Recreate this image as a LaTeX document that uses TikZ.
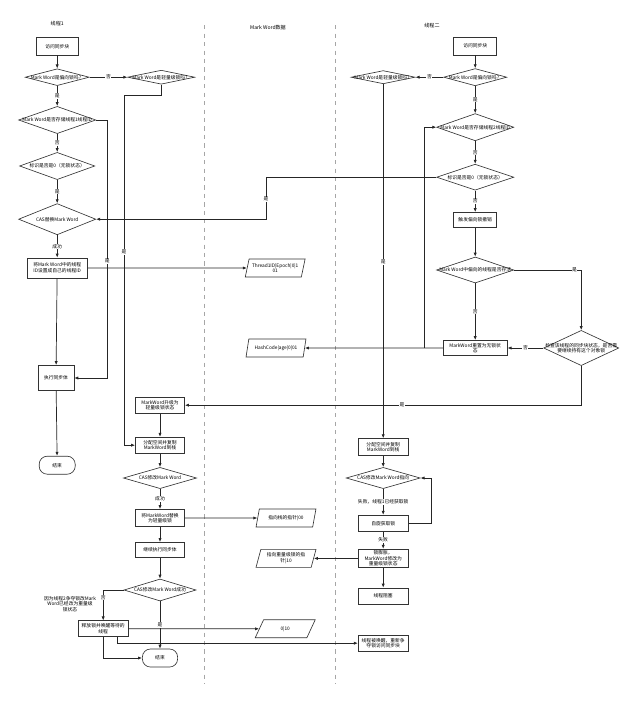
\documentclass[tikz,border=0pt]{standalone}
\usepackage{fontspec}
\setmainfont{Noto Sans CJK SC}
\usetikzlibrary{shapes.geometric,positioning,calc,arrows.meta}

\begin{document}
\begin{tikzpicture}[font=\fontsize{3.4}{4.0}\selectfont,
 box/.style={draw=black!80,line width=0.45pt,fill=white,minimum width=1.23cm,minimum height=0.4cm,align=center,inner sep=1pt},
 dec/.style={diamond,draw=black!80,line width=0.45pt,fill=white,inner sep=0pt},
 para/.style={trapezium,trapezium left angle=74,trapezium right angle=106,trapezium stretches=true,draw=black!80,line width=0.45pt,fill=white,minimum width=1.5cm,minimum height=0.45cm,align=center,inner sep=1pt},
 term/.style={draw=black!80,line width=0.45pt,fill=white,rounded corners=0.2cm,minimum width=0.9cm,minimum height=0.45cm},
 ln/.style={draw=black!85,line width=0.5pt},
 arr/.style={ln,-{Latex[length=1mm,width=0.8mm]}},
 lb/.style={fill=white,inner sep=0.4pt},
 lane/.style={dashed,gray!70,line width=0.45pt},
 ttl/.style={font=\fontsize{3.6}{4.2}\selectfont}]
\fill[white] (0,0) rectangle (16,-17.675);
% lanes
\node[ttl] (t1) at (1.43,-0.58) {线程1};
\node[ttl] (tm) at (6.70,-0.68) {Mark Word数据};
\node[ttl] (t2) at (10.80,-0.65) {线程二};
\draw[lane] (5.10,-0.63) -- (5.10,-17.08);
\draw[lane] (8.38,-0.63) -- (8.38,-17.08);
% thread 1
\node[box,minimum width=1.05cm,minimum height=0.43cm] (a1) at (1.43,-1.16) {访问同步块};
\node[dec,minimum width=1.6cm,minimum height=0.42cm,label=center:{Mark Word是偏向锁吗？}] (d1) at (1.43,-1.93) {};
\node[dec,minimum width=1.68cm,minimum height=0.35cm,label=center:{Mark Word是轻量级锁吗？}] (d1r) at (4.03,-1.93) {};
\node[dec,minimum width=1.93cm,minimum height=0.68cm,label=center:{Mark Word是否存储线程1线程ID}] (d2) at (1.43,-3.0) {};
\node[dec,minimum width=1.88cm,minimum height=0.68cm,label=center:{标识是否是0（无锁状态）}] (d3) at (1.43,-4.15) {};
\node[dec,minimum width=1.93cm,minimum height=0.78cm,label=center:{CAS替换Mark Word}] (d4) at (1.43,-5.48) {};
\node[box,minimum width=1.5cm,minimum height=0.5cm] (b1) at (1.43,-6.7) {将Mark Word中的线程\\ID设置成自己的线程ID};
\node[box,minimum width=0.9cm,minimum height=0.63cm] (b2) at (1.40,-9.45) {执行同步体};
\node[term] (e1) at (1.43,-11.63) {结束};
\node[box] (c1) at (4.0,-10.13) {MarkWord升级为\\轻量级锁状态};
\node[box] (c2) at (4.0,-11.13) {分配空间并复制\\MarkWord到栈};
\node[dec,minimum width=1.83cm,minimum height=0.53cm,label=center:{CAS修改Mark Word}] (c3) at (4.0,-11.95) {};
\node[box,minimum height=0.43cm] (c4) at (4.0,-12.95) {将MarkWord替换\\为轻量级锁};
\node[box,minimum height=0.38cm] (c5) at (4.0,-13.75) {继续执行同步体};
\node[dec,minimum width=1.8cm,minimum height=0.55cm,label=center:{CAS修改Mark Word成功}] (c6) at (4.0,-14.75) {};
\node[box,minimum width=1.25cm] (c7) at (2.58,-15.72) {释放锁并唤醒等待的\\线程};
\node[term,minimum width=0.88cm] (e2) at (4.0,-16.45) {结束};
\node[align=center] (nt) at (1.75,-15.1) {因为线程2争夺锁改Mark\\Word已经改为重量级\\锁状态};
% mark word data
\node[para] (p1) at (6.88,-6.7) {Thread1ID|Epoch|0|1\\01};
\node[para] (p2) at (6.9,-8.7) {HashCode|age|0|01};
\node[para] (p3) at (7.15,-12.95) {指向栈的指针|00};
\node[para] (p5) at (7.15,-13.96) {指向重量级锁的指\\针|10};
\node[para] (p4) at (7.13,-15.72) {0|10};
% thread 2
\node[box,minimum width=1.08cm,minimum height=0.45cm] (f1) at (11.88,-1.15) {访问同步块};
\node[dec,minimum width=1.58cm,minimum height=0.43cm,label=center:{Mark Word是偏向锁吗？}] (g1) at (11.88,-1.93) {};
\node[dec,minimum width=1.6cm,minimum height=0.33cm,label=center:{Mark Word是轻量级锁吗？}] (g1l) at (9.58,-1.93) {};
\node[dec,minimum width=1.93cm,minimum height=0.68cm,label=center:{Mark Word是否存储线程2线程ID}] (g2) at (11.88,-3.18) {};
\node[dec,minimum width=1.93cm,minimum height=0.65cm,label=center:{标识是否是0（无锁状态）}] (g3) at (11.88,-4.43) {};
\node[box,minimum width=1.08cm,minimum height=0.38cm] (f2) at (11.88,-5.5) {触发偏向锁撤销};
\node[dec,minimum width=1.93cm,minimum height=0.65cm,label=center:{Mark Word中偏向的线程是否存活}] (g4) at (11.88,-6.75) {};
\node[box,minimum width=1.6cm,minimum height=0.38cm] (f3) at (11.88,-8.7) {MarkWord重置为无锁状\\态};
\node[dec,minimum width=1.88cm,minimum height=0.88cm,label={[align=center]center:{检查该线程的同步块状态，是否需\\要继续持有这个对象锁}}] (g5) at (14.53,-8.7) {};
\node[box,minimum width=1.25cm,minimum height=0.43cm] (f4) at (9.58,-11.18) {分配空间并复制\\MarkWord到栈};
\node[dec,minimum width=1.85cm,minimum height=0.53cm,label=center:{CAS修改Mark Word指向}] (g6) at (9.58,-11.95) {};
\node[box,minimum width=1.25cm] (f5) at (9.58,-13.08) {自旋获取锁};
\node[box,minimum width=1.25cm,minimum height=0.43cm] (f6) at (9.58,-13.96) {锁膨胀，\\MarkWord修改为\\重量级锁状态};
\node[box,minimum width=1.25cm] (f7) at (9.58,-14.9) {线程阻塞};
\node[box,minimum width=1.25cm] (w2) at (9.58,-16.08) {线程被唤醒，重新争\\夺锁访问同步块};
% bends
\coordinate (k1) at (2.68,-3.0);
\coordinate (k2) at (4.03,-2.38);
\coordinate (k3) at (3.1,-2.38);
\coordinate (k4) at (2.93,-16.08);
\coordinate (k5) at (6.65,-4.43);
\coordinate (k6) at (14.53,-10.13);
\coordinate (k7) at (10.6,-8.7);
\coordinate (k8) at (10.6,-3.18);
\coordinate (k10) at (10.78,-13.08);
% thread 1 flow
\draw[arr] (a1) -- (d1);
\draw[arr] (d1) -- node[lb]{是} (d2);
\draw[arr] (d1) -- node[lb]{否} (d1r);
\draw[arr] (d2) -- node[lb]{否} (d3);
\draw[arr] (d3) -- node[lb]{是} (d4);
\draw[arr] (d4) -- node[lb]{成功} (b1);
\draw[arr] (b1) -- (b2);
\draw[arr] (b2) -- (e1);
\draw[arr] (d2.east) -- (k1) |- (b2.east);
\draw[arr] (d1r.south) -- (k2) -- (k3) |- (c2.west);
\draw[arr] (b1) -- (p1);
\draw[arr] (c1) -- (c2);
\draw[arr] (c2) -- (c3);
\draw[arr] (c3) -- node[lb]{成功} (c4);
\draw[arr] (c4) -- (c5);
\draw[arr] (c5) -- (c6);
\draw[arr] (c4) -- (p3);
\draw[arr] (c6.west) -| node[lb,pos=0.62]{否} (c7.north);
\draw[arr] (c6) -- node[lb]{是} (e2);
\draw[arr] (c7.south) |- (e2.west);
\draw[arr] (c7) -- (p4);
\draw[arr] (k4 |- c7.south) -- (k4) -- (w2.west);
% thread 2 flow
\draw[arr] (f1) -- (g1);
\draw[arr] (g1) -- node[lb]{否} (g1l);
\draw[arr] (g1) -- node[lb]{是} (g2);
\draw[arr] (g2) -- node[lb]{否} (g3);
\draw[arr] (g3.west) -- (k5) |- (d4.east);
\draw[arr] (g3) -- node[lb]{否} (f2);
\draw[arr] (f2) -- (g4);
\draw[arr] (g4) -- node[lb]{否} (f3);
\draw[arr] (g4.east) -| node[lb,pos=0.45]{是} (g5.north);
\draw[arr] (g5.west) -- node[lb]{否} (f3.east);
\draw[arr] (g5.south) -- (k6) -- (c1.east);
\draw[arr] (f3) -- (p2);
\draw[arr] (k7) -- (k8) -- (g2.west);
\draw[arr] (g1l) -- (f4);
\draw[arr] (f4) -- (g6);
\draw[arr] (g6) -- node[lb]{失败，线程1已经获取锁} (f5);
\draw[arr] (f5.east) -- (k10) |- (g6.east);
\draw[arr] (f5) -- node[lb]{失败} (f6);
\draw[arr] (f6) -- (p5);
\draw[arr] (f6) -- (f7);
% labels on long lines
\node[lb] (y1) at (2.68,-6.53) {是};
\node[lb] (y2) at (3.1,-6.3) {是};
\node[lb] (y3) at (6.65,-4.98) {是};
\node[lb] (y4) at (10.05,-10.13) {是};
\node[lb] (y5) at (9.58,-6.55) {是};
\end{tikzpicture}
\end{document}
